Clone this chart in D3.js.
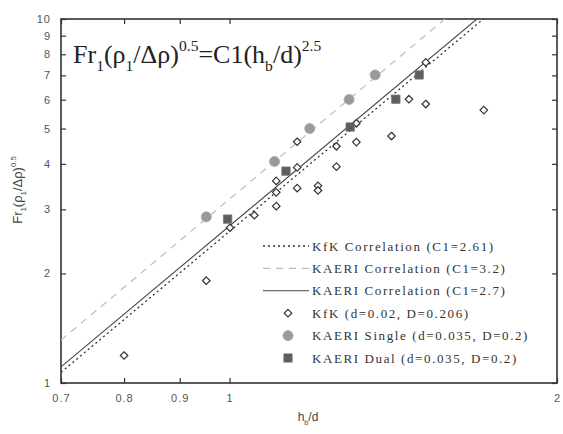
<!DOCTYPE html>
<html>
<head>
<meta charset="utf-8">
<script src="https://cdn.jsdelivr.net/npm/d3@7"></script>
<style>
  body { margin: 0; background: #fff; }
  svg { display: block; }
  .tick text { font-family: "Liberation Sans", Arial, sans-serif; font-size: 11px; fill: #555; letter-spacing: 1px; }
  .legend text { font-family: "Liberation Serif", "Times New Roman", serif; font-size: 13px; fill: #333; letter-spacing: 1.6px; }
</style>
</head>
<body>
<svg id="chart"></svg>
<script>
// tick labels
const xTicks = [0.7, 0.8, 0.9, 1, 2];
const yTicks = [1, 2, 3, 4, 5, 6, 7, 8, 9, 10];

// correlation constants C1 for Fr = C1 (hb/d)^2.5
const correlations = ["KfK Correlation (C1=2.61)", "KAERI Correlation (C1=3.2)", "KAERI Correlation (C1=2.7)"];
const corrC1 = [2.61, 3.2, 2.7];
const exponent = 2.5;

// KfK (d=0.02, D=0.206)
const kfkX = [0.80, 0.952, 1.001, 1.054, 1.104, 1.104, 1.104, 1.154, 1.154, 1.154, 1.206, 1.206,
              1.254, 1.254, 1.308, 1.308, 1.409, 1.462, 1.515, 1.515, 1.713];
const kfkY = [1.19, 1.91, 2.67, 2.89, 3.06, 3.34, 3.59, 3.43, 3.91, 4.60, 3.48, 3.38,
              3.93, 4.47, 4.59, 5.17, 4.77, 6.02, 5.84, 7.60, 5.62];

// KAERI Single (d=0.035, D=0.2)
const singleX = [0.952, 1.100, 1.185, 1.288, 1.361];
const singleY = [2.86, 4.06, 5.00, 6.01, 7.02];

// KAERI Dual (d=0.035, D=0.2)
const dualX = [0.996, 1.127, 1.291, 1.422, 1.494];
const dualY = [2.82, 3.82, 5.05, 6.02, 7.02];

const seriesNames = ["KfK (d=0.02, D=0.206)", "KAERI Single (d=0.035, D=0.2)", "KAERI Dual (d=0.035, D=0.2)"];

const W = 563, H = 434;
const margin = { top: 19, right: 6, bottom: 51, left: 61 };
const width = W - margin.left - margin.right;
const height = H - margin.top - margin.bottom;

const svg = d3.select("#chart").attr("width", W).attr("height", H);
const g = svg.append("g").attr("transform", `translate(${margin.left},${margin.top})`);

const x = d3.scaleLog().domain([0.7, 2]).range([0, width]);
const y = d3.scaleLog().domain([1, 10]).range([height, 0]);

g.append("clipPath").attr("id", "clip")
  .append("rect").attr("width", width).attr("height", height);

// axes, inward ticks, mirrored on top/right
const fmt = (d) => String(d);
const axisColor = "#333";
function styleAxis(sel) {
  sel.select(".domain").remove();
  sel.selectAll(".tick line").attr("stroke", axisColor).attr("stroke-width", 1.2);
}
g.append("g").attr("transform", `translate(0,${height})`)
  .call(d3.axisBottom(x).tickValues(xTicks).tickFormat(fmt).tickSizeInner(-5).tickPadding(11))
  .call(styleAxis);
g.append("g")
  .call(d3.axisLeft(y).tickValues(yTicks).tickFormat(fmt).tickSizeInner(-5).tickPadding(10))
  .call(styleAxis);
g.append("g")
  .call(d3.axisTop(x).tickValues(xTicks).tickFormat("").tickSizeInner(-5))
  .call(styleAxis);
g.append("g").attr("transform", `translate(${width},0)`)
  .call(d3.axisRight(y).tickValues(yTicks).tickFormat("").tickSizeInner(-5))
  .call(styleAxis);

// frame
g.append("rect").attr("width", width).attr("height", height)
  .attr("fill", "none").attr("stroke", axisColor).attr("stroke-width", 1.6);

// correlation lines
const lineStyles = [
  { stroke: "#333", dash: "2,3", width: 1.3 },
  { stroke: "#bbb", dash: "7,6", width: 1.2 },
  { stroke: "#444", dash: null, width: 1.1 },
];
const line = d3.line().x((d) => x(d[0])).y((d) => y(d[1]));
const lines = g.append("g").attr("clip-path", "url(#clip)");
corrC1.forEach((c, i) => {
  const pts = x.domain().map((v) => [v, c * Math.pow(v, exponent)]);
  lines.append("path").datum(pts)
    .attr("d", line)
    .attr("fill", "none")
    .attr("stroke", lineStyles[i].stroke)
    .attr("stroke-width", lineStyles[i].width)
    .attr("stroke-dasharray", lineStyles[i].dash);
});

// markers
const diamond = d3.symbol().type(d3.symbolDiamond2).size(36);
const circle = d3.symbol().type(d3.symbolCircle).size(80);
const square = d3.symbol().type(d3.symbolSquare).size(70);

function drawMarker(sel, kind) {
  if (kind === 0) {
    sel.attr("d", diamond).attr("fill", "#fff").attr("stroke", "#333").attr("stroke-width", 1.2);
  } else if (kind === 1) {
    sel.attr("d", circle).attr("fill", "#9a9a9a").attr("stroke", "#aaa").attr("stroke-width", 0.8);
  } else {
    sel.attr("d", square).attr("fill", "#5e5e5e").attr("stroke", "#777").attr("stroke-width", 0.8);
  }
}

const seriesData = [
  kfkX.map((v, i) => [v, kfkY[i]]),
  singleX.map((v, i) => [v, singleY[i]]),
  dualX.map((v, i) => [v, dualY[i]]),
];
seriesData.forEach((pts, k) => {
  g.append("g").selectAll("path").data(pts).join("path")
    .attr("transform", (d) => `translate(${x(d[0])},${y(d[1])})`)
    .call(drawMarker, k);
});

// legend
const legend = svg.append("g").attr("class", "legend").attr("transform", "translate(263,246)");
const rowH = 22.4;
correlations.forEach((name, i) => {
  const row = legend.append("g").attr("transform", `translate(0,${i * rowH})`);
  row.append("line").attr("x1", 0).attr("x2", 46)
    .attr("stroke", lineStyles[i].stroke)
    .attr("stroke-width", lineStyles[i].width)
    .attr("stroke-dasharray", lineStyles[i].dash);
  row.append("text").attr("x", 49).attr("y", 4.5).text(name);
});
seriesNames.forEach((name, k) => {
  const row = legend.append("g").attr("transform", `translate(0,${(k + 3) * rowH})`);
  row.append("path").attr("transform", "translate(25,0)").call(drawMarker, k);
  row.append("text").attr("x", 49).attr("y", 4.5).text(name);
});

// title formula
const title = svg.append("text")
  .attr("x", 73).attr("y", 63)
  .attr("font-family", "'Liberation Serif', 'Times New Roman', serif")
  .attr("font-size", 26).attr("fill", "#222");
const parts = [
  ["Fr", 0], ["1", 1], ["(ρ", 0], ["1", 1], ["/Δρ)", 0], ["0.5", 2],
  ["=C1(h", 0], ["b", 1], ["/d)", 0], ["2.5", 2],
];
function writeParts(textSel, list, size) {
  let shift = 0;
  list.forEach(([t, k]) => {
    const target = k === 1 ? 0.3 * size : k === 2 ? -0.45 * size : 0;
    textSel.append("tspan")
      .attr("dy", target - shift)
      .attr("font-size", k === 0 ? size : size * 0.6)
      .text(t);
    shift = target;
  });
}
writeParts(title, parts, 26);

// y label
const yLabel = svg.append("text")
  .attr("transform", "translate(22,190) rotate(-90)")
  .attr("text-anchor", "middle")
  .attr("font-family", "'Liberation Sans', Arial, sans-serif")
  .attr("font-size", 13).attr("fill", "#444");
writeParts(yLabel, [["Fr", 0], ["1", 1], ["(ρ", 0], ["1", 1], ["/Δρ)", 0], ["0.5", 2]], 13);

// x label
const xLabel = svg.append("text")
  .attr("x", 308).attr("y", 421)
  .attr("text-anchor", "middle")
  .attr("font-family", "'Liberation Sans', Arial, sans-serif")
  .attr("font-size", 12).attr("fill", "#444");
writeParts(xLabel, [["h", 0], ["b", 1], ["/d", 0]], 12);
</script>
</body>
</html>
